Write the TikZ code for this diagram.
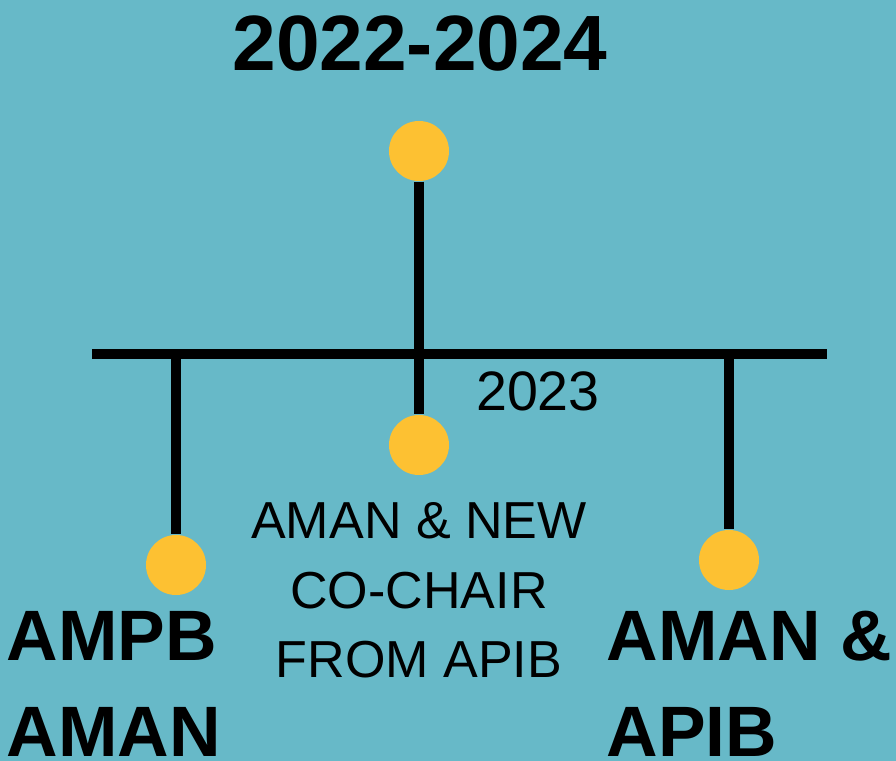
\documentclass[tikz,border=0pt]{standalone}
\usepackage{fontspec}
\setmainfont{Liberation Sans}
\definecolor{teal}{RGB}{103,185,200}
\definecolor{dotyellow}{RGB}{253,193,50}
\tikzset{
	dot/.style={circle, fill=dotyellow, inner sep=0pt, minimum size=0.6cm},
	bar/.style={line width=0.1cm},
	boldlbl/.style={font=\bfseries\fontsize{20.3}{27.3}\selectfont, anchor=base west, inner sep=0pt},
	midlbl/.style={font=\fontsize{14.8}{19.7}\selectfont, anchor=base, inner sep=0pt},
}
\begin{document}
\begin{tikzpicture}[x=0.01cm,y=-0.01cm]
		\fill[teal] (0,0) rectangle (896,761);
		\useasboundingbox (0,0) rectangle (896,761);

		%% top
		\node[font=\bfseries\fontsize{22.3}{26}\selectfont, anchor=base, inner sep=0pt] at (420,71)(period){2022-2024};
		\node[dot] at (419,151)(top){};

		%% bar
		\coordinate (barl) at (92,354);
		\coordinate (barr) at (827,354);
		\coordinate (jl) at (176,354);
		\coordinate (jm) at (419,354);
		\coordinate (jr) at (729,354);
		\draw[bar] (barl)--(barr);

		%% branches
		\node[dot] at (176,565)(left){};
		\node[dot] at (419,445)(mid){};
		\node[dot] at (729,560)(right){};

		\draw[bar] (top)--(jm);
		\draw[bar] (jl)--(left);
		\draw[bar] (jm)--(mid);
		\draw[bar] (jr)--(right);

		%% labels
		\node[font=\fontsize{15.8}{19}\selectfont, anchor=base, inner sep=0pt] at (538,411)(year){2023};

		\node[midlbl] at (419,539)(m1){AMAN \& NEW};
		\node[midlbl] at (419,609)(m2){CO-CHAIR};
		\node[midlbl] at (419,678)(m3){FROM APIB};

		\node[boldlbl] at (6,661)(l1){AMPB};
		\node[boldlbl] at (6,757)(l2){AMAN};

		\node[boldlbl] at (606,661)(r1){AMAN \&};
		\node[boldlbl] at (606,757)(r2){APIB};
	\end{tikzpicture}
\end{document}
